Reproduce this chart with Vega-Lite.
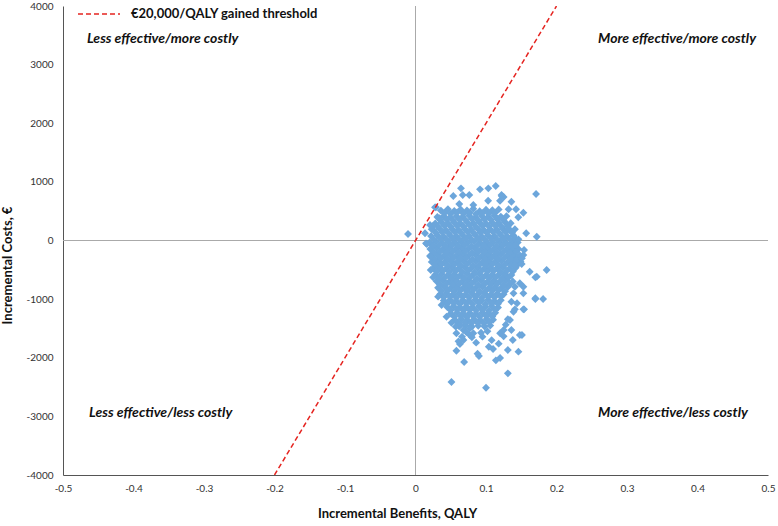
{
"$schema": "https://vega.github.io/schema/vega-lite/v6.json",
"width": 705,
"height": 469,
"autosize": {"type": "none"},
"padding": {"left": 63, "top": 6, "right": 10, "bottom": 51},
"config": {"view": {"stroke": null}, "font": "Lato"},
"datasets": {
"sim": [
{"qaly":0.036,"cost":510},{"qaly":0.046,"cost":535},{"qaly":0.055,"cost":505},{"qaly":0.064,"cost":528},{"qaly":0.073,"cost":512},{"qaly":0.082,"cost":540},{"qaly":0.091,"cost":500},{"qaly":0.100,"cost":525},{"qaly":0.109,"cost":515},{"qaly":0.118,"cost":530},
{"qaly":0.031,"cost":400},{"qaly":0.040,"cost":420},{"qaly":0.049,"cost":395},{"qaly":0.058,"cost":415},{"qaly":0.067,"cost":405},{"qaly":0.076,"cost":425},{"qaly":0.085,"cost":398},{"qaly":0.094,"cost":418},{"qaly":0.103,"cost":402},{"qaly":0.112,"cost":423},{"qaly":0.121,"cost":408},{"qaly":0.129,"cost":415},
{"qaly":0.028,"cost":290},{"qaly":0.037,"cost":310},{"qaly":0.046,"cost":295},{"qaly":0.055,"cost":305},{"qaly":0.064,"cost":288},{"qaly":0.073,"cost":312},{"qaly":0.082,"cost":296},{"qaly":0.091,"cost":308},{"qaly":0.100,"cost":292},{"qaly":0.109,"cost":303},{"qaly":0.118,"cost":298},{"qaly":0.127,"cost":311},{"qaly":0.135,"cost":294},
{"qaly":0.025,"cost":185},{"qaly":0.034,"cost":200},{"qaly":0.043,"cost":178},{"qaly":0.052,"cost":195},{"qaly":0.061,"cost":182},{"qaly":0.070,"cost":198},{"qaly":0.079,"cost":188},{"qaly":0.088,"cost":202},{"qaly":0.097,"cost":180},{"qaly":0.106,"cost":193},{"qaly":0.115,"cost":186},{"qaly":0.124,"cost":199},{"qaly":0.133,"cost":181},{"qaly":0.141,"cost":192},
{"qaly":0.022,"cost":75},{"qaly":0.031,"cost":90},{"qaly":0.040,"cost":70},{"qaly":0.049,"cost":85},{"qaly":0.058,"cost":72},{"qaly":0.067,"cost":88},{"qaly":0.076,"cost":78},{"qaly":0.085,"cost":92},{"qaly":0.094,"cost":68},{"qaly":0.103,"cost":84},{"qaly":0.112,"cost":76},{"qaly":0.121,"cost":89},{"qaly":0.130,"cost":73},{"qaly":0.139,"cost":86},
{"qaly":0.020,"cost":-35},{"qaly":0.029,"cost":-20},{"qaly":0.038,"cost":-40},{"qaly":0.047,"cost":-25},{"qaly":0.056,"cost":-38},{"qaly":0.065,"cost":-22},{"qaly":0.074,"cost":-32},{"qaly":0.083,"cost":-18},{"qaly":0.092,"cost":-42},{"qaly":0.101,"cost":-27},{"qaly":0.110,"cost":-36},{"qaly":0.119,"cost":-21},{"qaly":0.128,"cost":-39},{"qaly":0.137,"cost":-24},{"qaly":0.145,"cost":-33},
{"qaly":0.021,"cost":-145},{"qaly":0.030,"cost":-130},{"qaly":0.039,"cost":-150},{"qaly":0.048,"cost":-135},{"qaly":0.057,"cost":-148},{"qaly":0.066,"cost":-128},{"qaly":0.075,"cost":-142},{"qaly":0.084,"cost":-132},{"qaly":0.093,"cost":-152},{"qaly":0.102,"cost":-138},{"qaly":0.111,"cost":-146},{"qaly":0.120,"cost":-131},{"qaly":0.129,"cost":-149},{"qaly":0.138,"cost":-136},{"qaly":0.146,"cost":-143},
{"qaly":0.022,"cost":-255},{"qaly":0.031,"cost":-240},{"qaly":0.040,"cost":-260},{"qaly":0.049,"cost":-245},{"qaly":0.058,"cost":-258},{"qaly":0.067,"cost":-238},{"qaly":0.076,"cost":-252},{"qaly":0.085,"cost":-242},{"qaly":0.094,"cost":-262},{"qaly":0.103,"cost":-248},{"qaly":0.112,"cost":-256},{"qaly":0.121,"cost":-241},{"qaly":0.130,"cost":-259},{"qaly":0.139,"cost":-246},{"qaly":0.148,"cost":-253},
{"qaly":0.023,"cost":-365},{"qaly":0.032,"cost":-350},{"qaly":0.041,"cost":-370},{"qaly":0.050,"cost":-355},{"qaly":0.059,"cost":-368},{"qaly":0.068,"cost":-348},{"qaly":0.077,"cost":-362},{"qaly":0.086,"cost":-352},{"qaly":0.095,"cost":-372},{"qaly":0.104,"cost":-358},{"qaly":0.113,"cost":-366},{"qaly":0.122,"cost":-351},{"qaly":0.131,"cost":-369},{"qaly":0.140,"cost":-356},{"qaly":0.149,"cost":-363},
{"qaly":0.025,"cost":-475},{"qaly":0.034,"cost":-460},{"qaly":0.043,"cost":-480},{"qaly":0.052,"cost":-465},{"qaly":0.061,"cost":-478},{"qaly":0.070,"cost":-458},{"qaly":0.079,"cost":-472},{"qaly":0.088,"cost":-462},{"qaly":0.097,"cost":-482},{"qaly":0.106,"cost":-468},{"qaly":0.115,"cost":-476},{"qaly":0.124,"cost":-461},{"qaly":0.133,"cost":-479},{"qaly":0.142,"cost":-466},
{"qaly":0.028,"cost":-585},{"qaly":0.037,"cost":-570},{"qaly":0.046,"cost":-590},{"qaly":0.055,"cost":-575},{"qaly":0.064,"cost":-588},{"qaly":0.073,"cost":-568},{"qaly":0.082,"cost":-582},{"qaly":0.091,"cost":-572},{"qaly":0.100,"cost":-592},{"qaly":0.109,"cost":-578},{"qaly":0.118,"cost":-586},{"qaly":0.127,"cost":-571},{"qaly":0.136,"cost":-589},
{"qaly":0.030,"cost":-695},{"qaly":0.039,"cost":-680},{"qaly":0.048,"cost":-700},{"qaly":0.057,"cost":-685},{"qaly":0.066,"cost":-698},{"qaly":0.075,"cost":-678},{"qaly":0.084,"cost":-692},{"qaly":0.093,"cost":-682},{"qaly":0.102,"cost":-702},{"qaly":0.111,"cost":-688},{"qaly":0.120,"cost":-696},{"qaly":0.129,"cost":-681},{"qaly":0.138,"cost":-699},
{"qaly":0.032,"cost":-805},{"qaly":0.041,"cost":-790},{"qaly":0.050,"cost":-810},{"qaly":0.059,"cost":-795},{"qaly":0.068,"cost":-808},{"qaly":0.077,"cost":-788},{"qaly":0.086,"cost":-802},{"qaly":0.095,"cost":-792},{"qaly":0.104,"cost":-812},{"qaly":0.113,"cost":-798},{"qaly":0.122,"cost":-806},{"qaly":0.131,"cost":-791},
{"qaly":0.035,"cost":-915},{"qaly":0.044,"cost":-900},{"qaly":0.053,"cost":-920},{"qaly":0.062,"cost":-905},{"qaly":0.071,"cost":-918},{"qaly":0.080,"cost":-898},{"qaly":0.089,"cost":-912},{"qaly":0.098,"cost":-902},{"qaly":0.107,"cost":-922},{"qaly":0.116,"cost":-908},{"qaly":0.125,"cost":-916},
{"qaly":0.040,"cost":-1025},{"qaly":0.049,"cost":-1010},{"qaly":0.058,"cost":-1030},{"qaly":0.067,"cost":-1015},{"qaly":0.076,"cost":-1028},{"qaly":0.085,"cost":-1008},{"qaly":0.094,"cost":-1022},{"qaly":0.103,"cost":-1012},{"qaly":0.112,"cost":-1032},{"qaly":0.121,"cost":-1018},
{"qaly":0.045,"cost":-1135},{"qaly":0.054,"cost":-1120},{"qaly":0.063,"cost":-1140},{"qaly":0.072,"cost":-1125},{"qaly":0.081,"cost":-1138},{"qaly":0.090,"cost":-1118},{"qaly":0.099,"cost":-1132},{"qaly":0.108,"cost":-1122},{"qaly":0.117,"cost":-1142},
{"qaly":0.050,"cost":-1245},{"qaly":0.059,"cost":-1230},{"qaly":0.068,"cost":-1250},{"qaly":0.077,"cost":-1235},{"qaly":0.086,"cost":-1248},{"qaly":0.095,"cost":-1228},{"qaly":0.104,"cost":-1242},{"qaly":0.113,"cost":-1232},
{"qaly":0.056,"cost":-1355},{"qaly":0.065,"cost":-1340},{"qaly":0.074,"cost":-1360},{"qaly":0.083,"cost":-1345},{"qaly":0.092,"cost":-1358},{"qaly":0.101,"cost":-1338},{"qaly":0.110,"cost":-1352},
{"qaly":0.062,"cost":-1465},{"qaly":0.071,"cost":-1450},{"qaly":0.080,"cost":-1470},{"qaly":0.089,"cost":-1455},{"qaly":0.098,"cost":-1468},{"qaly":0.106,"cost":-1452},
{"qaly":0.041,"cost":470},{"qaly":0.050,"cost":455},{"qaly":0.059,"cost":478},{"qaly":0.068,"cost":460},{"qaly":0.077,"cost":472},{"qaly":0.086,"cost":452},{"qaly":0.095,"cost":468},{"qaly":0.104,"cost":458},{"qaly":0.113,"cost":475},
{"qaly":0.035,"cost":350},{"qaly":0.044,"cost":362},{"qaly":0.053,"cost":345},{"qaly":0.062,"cost":358},{"qaly":0.071,"cost":348},{"qaly":0.080,"cost":365},{"qaly":0.089,"cost":342},{"qaly":0.098,"cost":360},{"qaly":0.107,"cost":352},{"qaly":0.116,"cost":363},{"qaly":0.125,"cost":346},
{"qaly":0.032,"cost":240},{"qaly":0.041,"cost":252},{"qaly":0.050,"cost":235},{"qaly":0.059,"cost":250},{"qaly":0.068,"cost":238},{"qaly":0.077,"cost":255},{"qaly":0.086,"cost":232},{"qaly":0.095,"cost":248},{"qaly":0.104,"cost":242},{"qaly":0.113,"cost":253},{"qaly":0.122,"cost":236},{"qaly":0.131,"cost":249},
{"qaly":0.029,"cost":130},{"qaly":0.038,"cost":142},{"qaly":0.047,"cost":125},{"qaly":0.056,"cost":140},{"qaly":0.065,"cost":128},{"qaly":0.074,"cost":145},{"qaly":0.083,"cost":122},{"qaly":0.092,"cost":138},{"qaly":0.101,"cost":132},{"qaly":0.110,"cost":143},{"qaly":0.119,"cost":126},{"qaly":0.128,"cost":139},{"qaly":0.137,"cost":131},
{"qaly":0.026,"cost":20},{"qaly":0.035,"cost":32},{"qaly":0.044,"cost":15},{"qaly":0.053,"cost":30},{"qaly":0.062,"cost":18},{"qaly":0.071,"cost":35},{"qaly":0.080,"cost":12},{"qaly":0.089,"cost":28},{"qaly":0.098,"cost":22},{"qaly":0.107,"cost":33},{"qaly":0.116,"cost":16},{"qaly":0.125,"cost":29},{"qaly":0.134,"cost":21},{"qaly":0.142,"cost":30},
{"qaly":0.025,"cost":-90},{"qaly":0.034,"cost":-78},{"qaly":0.043,"cost":-95},{"qaly":0.052,"cost":-80},{"qaly":0.061,"cost":-92},{"qaly":0.070,"cost":-75},{"qaly":0.079,"cost":-98},{"qaly":0.088,"cost":-82},{"qaly":0.097,"cost":-88},{"qaly":0.106,"cost":-77},{"qaly":0.115,"cost":-94},{"qaly":0.124,"cost":-81},{"qaly":0.133,"cost":-89},{"qaly":0.142,"cost":-79},
{"qaly":0.026,"cost":-200},{"qaly":0.035,"cost":-188},{"qaly":0.044,"cost":-205},{"qaly":0.053,"cost":-190},{"qaly":0.062,"cost":-202},{"qaly":0.071,"cost":-185},{"qaly":0.080,"cost":-208},{"qaly":0.089,"cost":-192},{"qaly":0.098,"cost":-198},{"qaly":0.107,"cost":-187},{"qaly":0.116,"cost":-204},{"qaly":0.125,"cost":-191},{"qaly":0.134,"cost":-199},{"qaly":0.143,"cost":-189},
{"qaly":0.027,"cost":-310},{"qaly":0.036,"cost":-298},{"qaly":0.045,"cost":-315},{"qaly":0.054,"cost":-300},{"qaly":0.063,"cost":-312},{"qaly":0.072,"cost":-295},{"qaly":0.081,"cost":-318},{"qaly":0.090,"cost":-302},{"qaly":0.099,"cost":-308},{"qaly":0.108,"cost":-297},{"qaly":0.117,"cost":-314},{"qaly":0.126,"cost":-301},{"qaly":0.135,"cost":-309},{"qaly":0.144,"cost":-299},
{"qaly":0.028,"cost":-420},{"qaly":0.037,"cost":-408},{"qaly":0.046,"cost":-425},{"qaly":0.055,"cost":-410},{"qaly":0.064,"cost":-422},{"qaly":0.073,"cost":-405},{"qaly":0.082,"cost":-428},{"qaly":0.091,"cost":-412},{"qaly":0.100,"cost":-418},{"qaly":0.109,"cost":-407},{"qaly":0.118,"cost":-424},{"qaly":0.127,"cost":-411},{"qaly":0.136,"cost":-419},{"qaly":0.145,"cost":-409},
{"qaly":0.030,"cost":-530},{"qaly":0.039,"cost":-518},{"qaly":0.048,"cost":-535},{"qaly":0.057,"cost":-520},{"qaly":0.066,"cost":-532},{"qaly":0.075,"cost":-515},{"qaly":0.084,"cost":-538},{"qaly":0.093,"cost":-522},{"qaly":0.102,"cost":-528},{"qaly":0.111,"cost":-517},{"qaly":0.120,"cost":-534},{"qaly":0.129,"cost":-521},{"qaly":0.138,"cost":-529},
{"qaly":0.033,"cost":-640},{"qaly":0.042,"cost":-628},{"qaly":0.051,"cost":-645},{"qaly":0.060,"cost":-630},{"qaly":0.069,"cost":-642},{"qaly":0.078,"cost":-625},{"qaly":0.087,"cost":-648},{"qaly":0.096,"cost":-632},{"qaly":0.105,"cost":-638},{"qaly":0.114,"cost":-627},{"qaly":0.123,"cost":-644},{"qaly":0.132,"cost":-631},
{"qaly":0.035,"cost":-750},{"qaly":0.044,"cost":-738},{"qaly":0.053,"cost":-755},{"qaly":0.062,"cost":-740},{"qaly":0.071,"cost":-752},{"qaly":0.080,"cost":-735},{"qaly":0.089,"cost":-758},{"qaly":0.098,"cost":-742},{"qaly":0.107,"cost":-748},{"qaly":0.116,"cost":-737},{"qaly":0.125,"cost":-754},{"qaly":0.134,"cost":-741},
{"qaly":0.037,"cost":-860},{"qaly":0.046,"cost":-848},{"qaly":0.055,"cost":-865},{"qaly":0.064,"cost":-850},{"qaly":0.073,"cost":-862},{"qaly":0.082,"cost":-845},{"qaly":0.091,"cost":-868},{"qaly":0.100,"cost":-852},{"qaly":0.109,"cost":-858},{"qaly":0.118,"cost":-847},{"qaly":0.127,"cost":-864},
{"qaly":0.040,"cost":-970},{"qaly":0.049,"cost":-958},{"qaly":0.058,"cost":-975},{"qaly":0.067,"cost":-960},{"qaly":0.076,"cost":-972},{"qaly":0.085,"cost":-955},{"qaly":0.094,"cost":-978},{"qaly":0.103,"cost":-962},{"qaly":0.112,"cost":-968},{"qaly":0.121,"cost":-957},
{"qaly":0.045,"cost":-1080},{"qaly":0.054,"cost":-1068},{"qaly":0.063,"cost":-1085},{"qaly":0.072,"cost":-1070},{"qaly":0.081,"cost":-1082},{"qaly":0.090,"cost":-1065},{"qaly":0.099,"cost":-1088},{"qaly":0.108,"cost":-1072},{"qaly":0.117,"cost":-1078},
{"qaly":0.050,"cost":-1190},{"qaly":0.059,"cost":-1178},{"qaly":0.068,"cost":-1195},{"qaly":0.077,"cost":-1180},{"qaly":0.086,"cost":-1192},{"qaly":0.095,"cost":-1175},{"qaly":0.104,"cost":-1198},{"qaly":0.113,"cost":-1182},
{"qaly":0.055,"cost":-1300},{"qaly":0.064,"cost":-1288},{"qaly":0.073,"cost":-1305},{"qaly":0.082,"cost":-1290},{"qaly":0.091,"cost":-1302},{"qaly":0.100,"cost":-1285},{"qaly":0.109,"cost":-1298},
{"qaly":0.061,"cost":-1410},{"qaly":0.070,"cost":-1398},{"qaly":0.079,"cost":-1415},{"qaly":0.088,"cost":-1400},{"qaly":0.097,"cost":-1412},{"qaly":0.105,"cost":-1395},
{"qaly":-0.0106,"cost":110},
{"qaly":0.0645,"cost":890},{"qaly":0.0915,"cost":873},{"qaly":0.1033,"cost":890},{"qaly":0.1138,"cost":930},{"qaly":0.171,"cost":793},{"qaly":0.0536,"cost":759},{"qaly":0.067,"cost":776},{"qaly":0.0763,"cost":776},{"qaly":0.1223,"cost":759},{"qaly":0.1199,"cost":679},{"qaly":0.103,"cost":679},{"qaly":0.0621,"cost":622},{"qaly":0.082,"cost":605},{"qaly":0.136,"cost":662},{"qaly":0.0277,"cost":566},{"qaly":0.0443,"cost":508},{"qaly":0.125,"cost":742},{"qaly":0.122,"cost":776},
{"qaly":0.132,"cost":532},{"qaly":0.1426,"cost":532},{"qaly":0.153,"cost":474},{"qaly":0.0338,"cost":379},{"qaly":0.0206,"cost":264},{"qaly":0.023,"cost":191},{"qaly":0.0135,"cost":123},{"qaly":0.0149,"cost":-48},{"qaly":0.0206,"cost":-264},{"qaly":0.1458,"cost":396},{"qaly":0.1316,"cost":208},{"qaly":0.157,"cost":123},{"qaly":0.146,"cost":20},{"qaly":0.172,"cost":65},{"qaly":0.154,"cost":-162},{"qaly":0.025,"cost":247},{"qaly":0.029,"cost":566},
{"qaly":0.0216,"cost":-276},{"qaly":0.025,"cost":-628},{"qaly":0.032,"cost":-958},{"qaly":0.037,"cost":-1100},{"qaly":0.044,"cost":-1300},{"qaly":0.051,"cost":-1402},{"qaly":0.063,"cost":-1441},{"qaly":0.068,"cost":-1527},{"qaly":0.077,"cost":-1612},
{"qaly":0.162,"cost":-532},{"qaly":0.172,"cost":-617},{"qaly":0.170,"cost":-986},{"qaly":0.153,"cost":-901},{"qaly":0.148,"cost":-730},{"qaly":0.144,"cost":-1071},{"qaly":0.139,"cost":-1215},{"qaly":0.134,"cost":-1356},{"qaly":0.125,"cost":-1527},{"qaly":0.136,"cost":-1527},{"qaly":0.148,"cost":-1612},{"qaly":0.120,"cost":-1583},
{"qaly":0.153,"cost":-247},{"qaly":0.1436,"cost":-333},{"qaly":0.1506,"cost":-401},{"qaly":0.151,"cost":-304},{"qaly":0.141,"cost":-418},{"qaly":0.153,"cost":-788},{"qaly":0.141,"cost":-788},{"qaly":0.139,"cost":-901},{"qaly":0.136,"cost":-1044},
{"qaly":0.146,"cost":-1896},{"qaly":0.131,"cost":-2266},{"qaly":0.100,"cost":-2511},{"qaly":0.051,"cost":-2414},{"qaly":0.069,"cost":-2073},{"qaly":0.090,"cost":-1970},{"qaly":0.088,"cost":-1930},{"qaly":0.114,"cost":-2044},{"qaly":0.120,"cost":-2005},{"qaly":0.131,"cost":-1868},{"qaly":0.058,"cost":-1880},{"qaly":0.063,"cost":-1766},{"qaly":0.061,"cost":-1720},{"qaly":0.104,"cost":-1812},{"qaly":0.110,"cost":-1851},{"qaly":0.080,"cost":-1651},{"qaly":0.086,"cost":-1743},{"qaly":0.154,"cost":-1174},{"qaly":0.151,"cost":-1612},{"qaly":0.181,"cost":-998},{"qaly":0.170,"cost":-998},{"qaly":0.186,"cost":-503},{"qaly":0.170,"cost":-628},
{"qaly":0.125,"cost":-1635},{"qaly":0.138,"cost":-1697},{"qaly":0.057,"cost":-1470},{"qaly":0.058,"cost":-1583},{"qaly":0.068,"cost":-1697},{"qaly":0.093,"cost":-1573},{"qaly":0.102,"cost":-1549},{"qaly":0.128,"cost":-1436},{"qaly":0.131,"cost":-1344},{"qaly":0.141,"cost":-1174},{"qaly":0.153,"cost":-1174},{"qaly":0.016,"cost":-60},{"qaly":0.0216,"cost":-503},{"qaly":0.082,"cost":-1583},{"qaly":0.077,"cost":-1500},{"qaly":0.072,"cost":-1560},{"qaly":0.095,"cost":-1640},{"qaly":0.108,"cost":-1700},{"qaly":0.118,"cost":-1760},{"qaly":0.066,"cost":-1640}
],
"threshold": [{"qaly": -0.2, "cost": -4000}, {"qaly": 0.2, "cost": 4000}],
"quadrants": [
{"label": "Less effective/more costly", "qaly": -0.466, "cost": 3429},
{"label": "More effective/more costly", "qaly": 0.259, "cost": 3429},
{"label": "Less effective/less costly", "qaly": -0.463, "cost": -2943},
{"label": "More effective/less costly", "qaly": 0.259, "cost": -2943}
],
"vzero": [{"qaly": 0, "cost": -4000, "cost2": 4000}],
"hzero": [{"qaly": -0.5, "qaly2": 0.5, "cost": 0}]
},
"encoding": {
"x": {"field": "qaly", "type": "quantitative",
 "scale": {"domain": [-0.5, 0.5], "nice": false, "zero": false},
 "axis": {"title": "Incremental Benefits, QALY", "titleX": 334, "values": [-0.5,-0.4,-0.3,-0.2,-0.1,0,0.1,0.2,0.3,0.4,0.5], "labelExpr": "toString(datum.value)", "grid": false, "ticks": false, "domainColor": "#555555", "labelPadding": 8, "labelFontSize": 10, "labelColor": "#333333", "labelFont": "Lato", "labelFlush": false, "titleFont": "Lato", "titleFontSize": 13, "titleFontWeight": "bold", "titleColor": "#111111", "titlePadding": 14}},
"y": {"field": "cost", "type": "quantitative",
 "scale": {"domain": [-4000, 4000], "nice": false, "zero": false},
 "axis": {"title": "Incremental Costs, €", "titleY": 259, "values": [-4000,-3000,-2000,-1000,0,1000,2000,3000,4000], "labelExpr": "toString(datum.value)", "grid": false, "ticks": false, "domainColor": "#555555", "labelPadding": 10, "labelFontSize": 10, "labelColor": "#333333", "labelFont": "Lato", "labelFlush": false, "titleFont": "Lato", "titleFontSize": 13, "titleFontWeight": "bold", "titleColor": "#111111", "titlePadding": 12}}
},
"layer": [
{"data": {"name": "vzero"}, "mark": {"type": "rule", "color": "#AAAAAA", "strokeWidth": 1}, "encoding": {"y2": {"field": "cost2"}}},
{"data": {"name": "hzero"}, "mark": {"type": "rule", "color": "#AAAAAA", "strokeWidth": 1}, "encoding": {"x2": {"field": "qaly2"}}},
{"data": {"name": "sim"}, "mark": {"type": "point", "shape": "diamond", "filled": true, "size": 62, "color": "#6CA6DB", "opacity": 1, "strokeWidth": 0}},
{"data": {"name": "threshold"}, "mark": {"type": "line", "strokeDash": [5, 3], "strokeWidth": 1.5, "clip": true},
 "encoding": {"color": {"datum": "€20,000/QALY gained threshold", "type": "nominal", "scale": {"range": ["#E52420"]},
  "legend": {"title": null, "orient": "none", "legendX": 14, "legendY": -14, "symbolType": "stroke", "symbolSize": 1764, "symbolStrokeWidth": 1.5, "symbolDash": [5, 3], "labelFont": "Lato", "labelFontSize": 13, "labelFontWeight": "bold", "labelColor": "#111111", "labelOffset": 10, "labelLimit": 400, "padding": 0}}}},
{"data": {"name": "quadrants"}, "mark": {"type": "text", "align": "left", "baseline": "middle", "font": "Lato", "fontSize": 14, "fontStyle": "italic", "fontWeight": "bold", "color": "#111111"},
 "encoding": {"text": {"field": "label"}}}
]
}
